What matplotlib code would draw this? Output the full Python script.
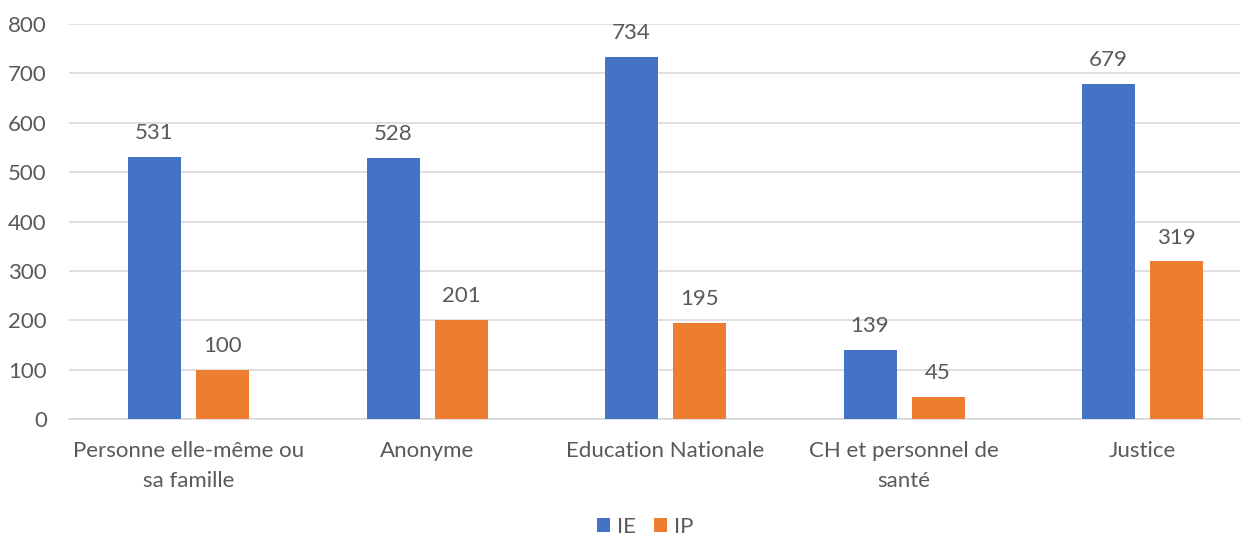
import matplotlib
matplotlib.use("Agg")
import matplotlib.pyplot as plt
import numpy as np

categories = ["Personne elle-même ou\nsa famille", "Anonyme", "Education Nationale",
              "CH et personnel de\nsanté", "Justice"]
ie_values = [531, 528, 734, 139, 679]
ip_values = [100, 201, 195, 45, 319]
series_names = ["IE", "IP"]
yticks = [0, 100, 200, 300, 400, 500, 600, 700, 800]

plt.rcParams['font.family'] = ['Lato', 'DejaVu Sans']
txt = '#595959'
blue = '#4472C4'
orange = '#ED7D31'
fs = 16

fig = plt.figure(figsize=(12.5, 5.4), dpi=100)
ax = fig.add_axes([69/1250, 1-419/540, (1240-69)/1250, (419-24)/540])

x = np.arange(len(categories))
w = 53/238.5
off = (53+15)/2/238.5
b1 = ax.bar(x - off, ie_values, w, color=blue, label=series_names[0], zorder=3)
b2 = ax.bar(x + off, ip_values, w, color=orange, label=series_names[1], zorder=3)
for bars, vals in ((b1, ie_values), (b2, ip_values)):
    for r, v in zip(bars, vals):
        ax.annotate(str(v), (r.get_x()+r.get_width()/2, v), xytext=(0, 10),
                    textcoords='offset points', ha='center', va='bottom',
                    fontsize=fs, color=txt)

ax.set_ylim(0, 800)
ax.set_xlim((69-188.5)/238.5, (1240-188.5)/238.5)
ax.set_yticks(yticks)
ax.set_xticks(x)
ax.set_xticklabels(categories, fontsize=fs, color=txt, linespacing=1.6)
ax.tick_params(axis='y', labelsize=fs, labelcolor=txt, length=0, pad=16)
ax.tick_params(axis='x', length=0, pad=16)
ax.grid(axis='y', color='#D9D9D9', linewidth=1.2, zorder=0)
for s in ['top', 'right', 'left']:
    ax.spines[s].set_visible(False)
ax.spines['bottom'].set_color('#D9D9D9')
ax.spines['bottom'].set_linewidth(1.2)

leg = fig.legend(handles=[b1, b2], labels=series_names, loc='center',
                 bbox_to_anchor=(645/1250, 1-527/540), ncol=2, frameon=False,
                 fontsize=fs, handlelength=0.6, handleheight=0.6,
                 handletextpad=0.3, columnspacing=0.8, borderpad=0.1)
for t in leg.get_texts():
    t.set_color(txt)

fig.savefig("out.png", dpi=100)
